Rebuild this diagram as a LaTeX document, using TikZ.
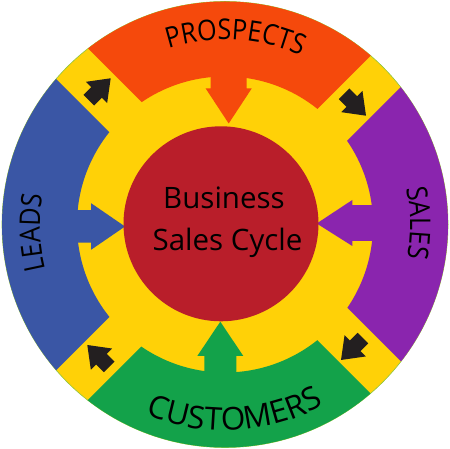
\documentclass[tikz,border=0pt]{standalone}
\usepackage{fontspec}
\setmainfont{Open Sans}
\newfontfamily\lblfam[FakeStretch=0.88]{Open Sans}
\usetikzlibrary{decorations.text}
\definecolor{cyorange}{RGB}{245,73,12}
\definecolor{cypurple}{RGB}{138,37,174}
\definecolor{cyblue}{RGB}{58,86,165}
\definecolor{cygreen}{RGB}{19,162,74}
\definecolor{cyyellow}{RGB}{255,209,7}
\definecolor{cyred}{RGB}{185,30,42}
\definecolor{cyblack}{RGB}{35,31,32}
\definecolor{cyrim}{RGB}{141,198,63}
\newcommand{\lblfont}{\lblfam\fontsize{28.5}{28.5}\selectfont}
\newcommand{\custfont}{\fontsize{31.5}{31.5}\selectfont}
\tikzset{
  ring/.style={even odd rule},
  flowarrow/.style={fill=cyblack},
  curvelabel/.style={decorate, decoration={text along path, text align=center, text={|\lblfont|#1}}},
  curvelabelwide/.style={decorate, decoration={text along path, text align=center, text={|\custfont|#1}}}
}
\begin{document}
\begin{tikzpicture}[x=1pt,y=1pt]
\useasboundingbox (0,0) rectangle (450,449);
\coordinate (C) at (225,224.5);
\fill[cyyellow, draw=cyrim, line width=0.6pt] (C) circle[radius=223];
% orange (top)
\begin{scope}
\clip (233,255.5) -- (833,855.5) -- (-367,855.5) -- cycle;
\fill[cyorange, ring] (C) circle[radius=223] (C) circle[radius=148];
\end{scope}
\fill[cyorange] (210.7,385) -- (210.7,360.5) -- (205.7,360.5) -- (228.7,325.5) -- (251.7,360.5) -- (246.7,360.5) -- (246.7,385) -- cycle;
% purple (right)
\begin{scope}
\clip (263.75,224.75) -- (863.75,824.75) -- (863.75,-375.25) -- cycle;
\fill[cypurple, ring] (C) circle[radius=223] (C) circle[radius=148];
\end{scope}
\fill[cypurple] (385,208.2) -- (352.3,208.2) -- (352.3,203) -- (316.7,225.5) -- (352.3,249) -- (352.3,243.8) -- (385,243.8) -- cycle;
% green (bottom)
\begin{scope}
\clip (232.5,193.5) -- (832.5,-406.5) -- (-367.5,-406.5) -- cycle;
\fill[cygreen, ring] (C) circle[radius=223] (C) circle[radius=148];
\end{scope}
\fill[cygreen] (204.3,65) -- (204.3,93) -- (197.3,93) -- (220.3,127.3) -- (243.3,93) -- (236.3,93) -- (236.3,65) -- cycle;
% blue (left)
\begin{scope}
\clip (201.75,224.25) -- (-398.25,-375.75) -- (-398.25,824.25) -- cycle;
\fill[cyblue, ring] (C) circle[radius=223] (C) circle[radius=148];
\end{scope}
\fill[cyblue] (65,206.3) -- (91.2,206.3) -- (91.2,199.3) -- (125,222.5) -- (91.2,245.7) -- (91.2,238.8) -- (65,238.8) -- cycle;
% black flow arrows
\fill[flowarrow, shift={(110.7,370.7)}, rotate=45] (0,0) -- (-20,15) -- (-20,7.5) -- (-31,7.5) -- (-31,-7.5) -- (-20,-7.5) -- (-20,-15) -- cycle;
\fill[flowarrow, shift={(366,333.3)}, rotate=-45] (0,0) -- (-20,15) -- (-20,7.5) -- (-31,7.5) -- (-31,-7.5) -- (-20,-7.5) -- (-20,-15) -- cycle;
\fill[flowarrow, shift={(341,89)}, rotate=-135] (0,0) -- (-20,15) -- (-20,7.5) -- (-31,7.5) -- (-31,-7.5) -- (-20,-7.5) -- (-20,-15) -- cycle;
\fill[flowarrow, shift={(87.3,104)}, rotate=135] (0,0) -- (-20,15) -- (-20,7.5) -- (-31,7.5) -- (-31,-7.5) -- (-20,-7.5) -- (-20,-15) -- cycle;
% centre
\fill[cyred] (221,225.2) circle[radius=97.5];
\node[anchor=base, inner sep=0pt, font=\fontsize{29.5}{29.5}\selectfont] (t1) at (224,240.7) {Business};
\node[anchor=base, inner sep=0pt, font=\fontsize{29.5}{29.5}\selectfont] (t2) at (227.5,198) {Sales Cycle};
% curved labels
\path[curvelabel=PROSPECTS] ([shift={(146.7:185)}]C) arc[start angle=146.7, end angle=26.7, radius=185];
\path[curvelabel=SALES] ([shift={(60.4:185)}]C) arc[start angle=60.4, end angle=-59.6, radius=185];
\path[curvelabel=LEADS] ([shift={(242.4:185)}]C) arc[start angle=242.4, end angle=122.4, radius=185];
\path[curvelabelwide=CUSTOMERS] ([shift={(213.1:206)}]C) arc[start angle=213.1, end angle=333.1, radius=206];
\end{tikzpicture}
\end{document}
